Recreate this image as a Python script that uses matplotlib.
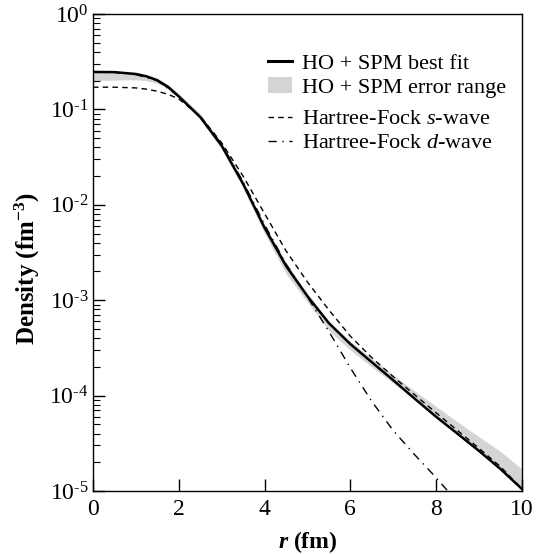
import matplotlib
matplotlib.use('Agg')
import matplotlib.pyplot as plt
from matplotlib.lines import Line2D
from matplotlib.patches import Patch
from matplotlib.ticker import LogLocator, FuncFormatter, NullFormatter
import numpy as np

plt.rcParams['font.family'] = ['Liberation Serif', 'DejaVu Serif']
plt.rcParams['axes.unicode_minus'] = False
plt.rcParams['mathtext.fontset'] = 'custom'
plt.rcParams['mathtext.rm'] = 'Liberation Serif'
plt.rcParams['mathtext.it'] = 'Liberation Serif:italic'
plt.rcParams['mathtext.bf'] = 'Liberation Serif:bold'
try:
    plt.rcParams['mathtext.bfit'] = 'Liberation Serif:italic:bold'
    bfit_ok = True
except KeyError:
    bfit_ok = False

# radius (fm)
r = [0, 0.5, 1, 1.25, 1.5, 1.75, 2, 2.5, 3, 3.5, 4, 4.5, 5, 5.5, 6, 6.5, 7, 7.5, 8, 8.5, 9, 9.5, 10]

# HO + SPM best fit
best_fit = [0.247, 0.246, 0.235, 0.222, 0.202, 0.172, 0.137, 0.0832, 0.0417, 0.0166, 0.00575,
            0.00229, 0.0011, 5.75e-4, 3.47e-4, 2.24e-4, 1.45e-4, 9.3e-5, 6.0e-5, 3.98e-5,
            2.63e-5, 1.7e-5, 1.05e-5]

# HO + SPM error range
err_low = [0.20, 0.203, 0.205, 0.2, 0.188, 0.163, 0.132, 0.079, 0.038, 0.015, 0.0050,
           0.0019, 9.5e-4, 4.8e-4, 3.0e-4, 2.0e-4, 1.35e-4, 8.9e-5, 5.8e-5, 3.9e-5,
           2.6e-5, 1.7e-5, 1.03e-5]
err_high = [0.25, 0.25, 0.245, 0.232, 0.213, 0.183, 0.147, 0.09, 0.044, 0.0175, 0.0062,
            0.0025, 0.00118, 6.0e-4, 3.7e-4, 2.45e-4, 1.65e-4, 1.12e-4, 7.7e-5, 5.3e-5,
            3.7e-5, 2.6e-5, 1.7e-5]

# Hartree-Fock s-wave
hf_s = [0.171, 0.171, 0.168, 0.163, 0.155, 0.144, 0.129, 0.085, 0.0447, 0.020, 0.0081,
        0.0033, 0.00155, 7.9e-4, 4.2e-4, 2.5e-4, 1.58e-4, 1.02e-4, 6.6e-5, 4.3e-5,
        2.8e-5, 1.8e-5, 1.05e-5]

# Hartree-Fock d-wave
r_d = [0, 0.5, 1, 1.5, 2, 2.5, 3, 3.5, 4, 4.5, 5, 5.5, 6, 6.5, 7, 7.5, 8, 8.5]
hf_d = [0.245, 0.244, 0.232, 0.2, 0.137, 0.084, 0.043, 0.0175, 0.0062, 0.0024,
        0.00108, 4.7e-4, 1.95e-4, 8.7e-5, 4.3e-5, 2.4e-5, 1.38e-5, 7.6e-6]

band_color = '#d4d4d6'
s_style = (0, (4, 3))
d_style = (0, (6, 4, 1, 4))


def pow10_label(val, pos):
    # 10^n with a short hyphen for the minus, like the original figure
    n = int(round(np.log10(val)))
    if n < 0:
        return r'$\mathdefault{10^{\text{-}%d}}$' % (-n)
    return r'$\mathdefault{10^{%d}}$' % n


fig = plt.figure(figsize=(5.5, 5.54), dpi=100)
ax = fig.add_axes([0.169, 0.1137, 0.78, 0.861])

ax.fill_between(r, err_low, err_high, color=band_color, linewidth=0)
ax.plot(r, hf_s, color='black', linewidth=1.0, linestyle=s_style)
ax.plot(r_d, hf_d, color='black', linewidth=1.0, linestyle=d_style)
ax.plot(r, best_fit, color='black', linewidth=1.8)

ax.set_yscale('log')
ax.set_xlim(0, 10)
ax.set_ylim(1e-5, 1)
ax.set_xticks([0, 2, 4, 6, 8, 10])
ax.yaxis.set_major_locator(LogLocator(base=10, numticks=10))
ax.yaxis.set_major_formatter(FuncFormatter(pow10_label))
ax.yaxis.set_minor_locator(LogLocator(base=10, subs=range(2, 10), numticks=10))
ax.yaxis.set_minor_formatter(NullFormatter())

ax.tick_params(axis='both', which='major', direction='in', length=8.5, width=1.0,
               labelsize=17, top=False, right=False)
ax.tick_params(axis='x', which='major', pad=6)
ax.tick_params(axis='y', which='major', pad=3)
ax.tick_params(axis='y', which='minor', direction='in', length=5, width=0.8, right=False)
ax.tick_params(axis='x', which='minor', bottom=False, top=False)
for s in ax.spines.values():
    s.set_linewidth(1.0)

if bfit_ok:
    ax.set_xlabel(r'$\mathbfit{r}$ (fm)', fontsize=17, fontweight='bold')
else:
    ax.set_xlabel(r'$\mathit{r}$ (fm)', fontsize=17, fontweight='bold')
ax.xaxis.set_label_coords(0.5, -0.08)
ax.set_ylabel(r'Density (fm$^{\mathbf{-3}}$)', fontsize=18, fontweight='bold')
ax.yaxis.set_label_coords(-0.118, 0.467)

h1 = [Line2D([], [], color='black', linewidth=2.2),
      Patch(facecolor=band_color, edgecolor='none')]
leg1 = ax.legend(h1, ['HO + SPM best fit', 'HO + SPM error range'],
                 loc='upper left', bbox_to_anchor=(0.408, 0.918), frameon=False,
                 fontsize=16, handlelength=1.1, handletextpad=0.45, labelspacing=0.15,
                 borderaxespad=0, borderpad=0)
ax.add_artist(leg1)
h2 = [Line2D([], [], color='black', linewidth=1.0, linestyle=s_style),
      Line2D([], [], color='black', linewidth=1.0, linestyle=d_style)]
ax.legend(h2, ['Hartree-Fock $s$-wave', 'Hartree-Fock $d$-wave'],
          loc='upper left', bbox_to_anchor=(0.408, 0.801), frameon=False,
          fontsize=16, handlelength=1.1, handletextpad=0.45, labelspacing=0.15,
          borderaxespad=0, borderpad=0)

fig.savefig('out.png', dpi=100)
